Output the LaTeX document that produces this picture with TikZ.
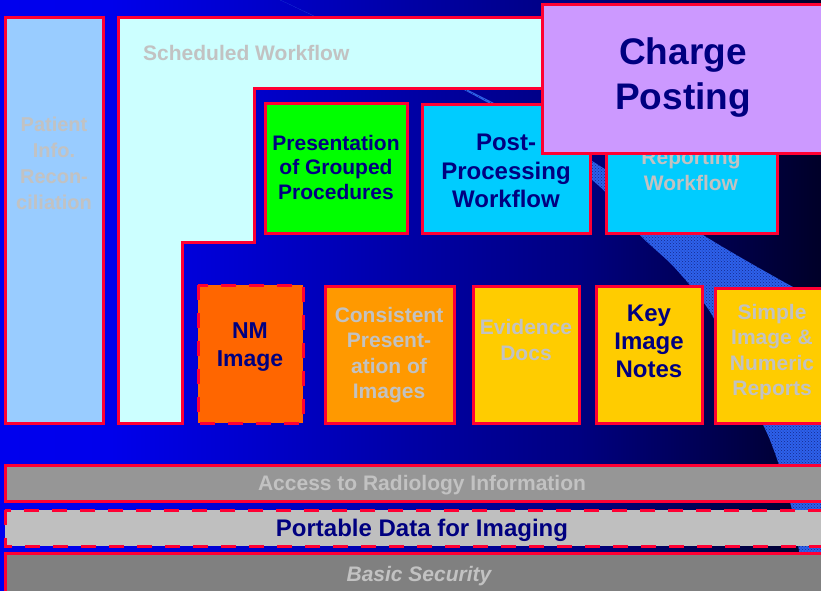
\documentclass[tikz,border=0pt]{standalone}
\usepackage{fontspec}
\setmainfont{Liberation Sans}
\usepackage{tikz}
\usetikzlibrary{patterns}
\usepackage{xcolor}
\definecolor{borderred}{rgb}{1.0, 0.0, 0.2}
\definecolor{navytext}{rgb}{0.0, 0.0, 0.5}
\definecolor{greytext}{rgb}{0.76, 0.76, 0.76}
\definecolor{patientblue}{rgb}{0.6, 0.8, 1.0}
\definecolor{schedcyan}{rgb}{0.8, 1.0, 1.0}
\definecolor{groupgreen}{rgb}{0.0, 1.0, 0.0}
\definecolor{workcyan}{rgb}{0.0, 0.8, 1.0}
\definecolor{chargelilac}{rgb}{0.8, 0.6, 1.0}
\definecolor{nmorange}{rgb}{1.0, 0.4, 0.0}
\definecolor{imgorange}{rgb}{1.0, 0.6, 0.0}
\definecolor{docyellow}{rgb}{1.0, 0.8, 0.0}
\definecolor{accessgrey}{rgb}{0.59, 0.59, 0.59}
\definecolor{portgrey}{rgb}{0.75, 0.75, 0.75}
\definecolor{securegrey}{rgb}{0.5, 0.5, 0.5}
\definecolor{swooshblue}{rgb}{0.18, 0.38, 0.92}
\definecolor{swooshdark}{rgb}{0.08, 0.16, 0.55}
\definecolor{bgA}{RGB}{0,0,238}
\definecolor{bgB}{RGB}{0,0,235}
\definecolor{bgC}{RGB}{0,0,205}
\definecolor{bgD}{RGB}{0,0,165}
\definecolor{bgE}{RGB}{0,0,128}
\definecolor{bgF}{RGB}{0,0,85}
\definecolor{bgG}{RGB}{0,0,40}
\pgfdeclarehorizontalshading{bgshade}{100bp}{color(0bp)=(bgA); color(25bp)=(bgA); color(31.7bp)=(bgB); color(40.2bp)=(bgC); color(50bp)=(bgD); color(60.3bp)=(bgE); color(67.6bp)=(bgF); color(75bp)=(bgG); color(100bp)=(bgG)}
\newcommand{\fs}[2]{\fontsize{#1}{#2}\selectfont\bfseries}

\begin{document}
\begin{tikzpicture}[x=1pt,y=-1pt,
    box/.style={draw=borderred, line width=3pt},
    dashbox/.style={box, dash pattern=on 15pt off 13pt},
    navytxt/.style={text=navytext, align=center, inner sep=0pt},
    greytxt/.style={text=greytext, align=center, inner sep=0pt}]
    \useasboundingbox (0,0) rectangle (821,590);
    \clip (0,0) rectangle (821,590);

    % Background and swoosh
    \shade[shading=bgshade] (0,0) rectangle (821,590);
    \fill[swooshblue, postaction={pattern=crosshatch dots, pattern color=swooshdark}]
        plot[smooth] coordinates {(276,-2) (490,101) (600,166) (703,235) (793,287) (840,310)}
        -- (840,600)
        -- plot[smooth] coordinates {(806,600) (792,510) (770,440) (740,380) (712,315) (675,268) (640,235) (598,185) (490,104) (276,-2)}
        -- cycle;

    % Left column and scheduled workflow
    \draw[box, fill=patientblue] (5,17) rectangle (103,423);
    \node[greytxt, font=\fs{20}{26}] (patient) at (54,163) {Patient\\Info.\\Recon-\\ciliation};
    \draw[box, fill=schedcyan] (118,17) -- (840,17) -- (840,88) -- (254,88) -- (254,242)
        -- (182,242) -- (182,423) -- (118,423) -- cycle;
    \node[greytxt, font=\fs{21}{25}, anchor=west] (sched) at (143,53) {Scheduled Workflow};

    % Upper row
    \draw[box, fill=groupgreen] (265,103) rectangle (407,233);
    \node[navytxt, font=\fs{21}{24.5}] (group) at (336,167) {Presentation\\of Grouped\\Procedures};
    \draw[box, fill=workcyan] (422,104) rectangle (590,233);
    \node[navytxt, font=\fs{24}{28.5}] (post) at (506,171) {Post-\\Processing\\Workflow};
    \draw[box, fill=workcyan] (606,104) rectangle (777,233);
    \node[greytxt, font=\fs{21}{26}] (report) at (691,170) {Reporting\\Workflow};
    \draw[box, fill=chargelilac] (542,4) rectangle (840,153);
    \node[navytxt, font=\fs{37}{45}] (charge) at (683,78) {Charge\\Posting};

    % Lower row
    \draw[dashbox, fill=nmorange] (198,285) rectangle (303,423);
    \node[navytxt, font=\fs{23}{28}] (nm) at (250,347) {NM\\Image};
    \draw[box, fill=imgorange] (325,286) rectangle (454,423);
    \node[greytxt, font=\fs{21}{25.5}] (consist) at (389,355) {Consistent\\Present-\\ation of\\Images};
    \draw[box, fill=docyellow] (473,286) rectangle (579,423);
    \node[greytxt, font=\fs{21}{26}] (evid) at (526,340) {Evidence\\Docs};
    \draw[box, fill=docyellow] (596,286) rectangle (702,423);
    \node[navytxt, font=\fs{24}{28}] (key) at (649,341) {Key\\Image\\Notes};
    \draw[box, fill=docyellow] (715,288) rectangle (840,423);
    \node[greytxt, font=\fs{21}{25.5}] (simple) at (772,352) {Simple\\Image \&\\Numeric\\Reports};

    % Bottom bars
    \draw[box, fill=accessgrey] (5,465) rectangle (840,501);
    \node[greytxt, font=\fs{21}{25}] (access) at (422,485) {Access to Radiology Information};
    \draw[dashbox, fill=portgrey] (5,510) rectangle (840,546);
    \node[navytxt, font=\fs{24}{28}] (pdi) at (422,530) {Portable Data for Imaging};
    \draw[box, fill=securegrey] (5,553) rectangle (840,600);
    \node[greytxt, font=\fs{21}{25}\itshape] (basic) at (419,576) {Basic Security};
\end{tikzpicture}
\end{document}
